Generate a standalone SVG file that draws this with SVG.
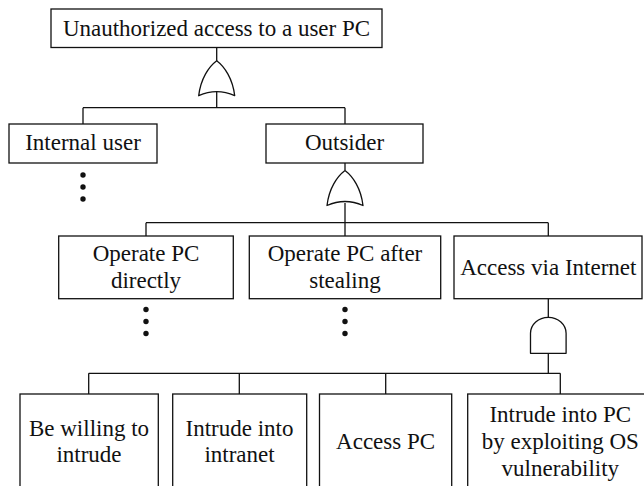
<svg xmlns="http://www.w3.org/2000/svg" width="644" height="486" viewBox="0 0 644 486">
<style>
.box{fill:#fff;stroke:#111;stroke-width:1.3}
.t{font-family:"Liberation Serif","Times New Roman",serif;font-size:23px;fill:#111;text-anchor:middle}
.ln{fill:none;stroke:#111;stroke-width:1.3}
.gate{fill:#fff;stroke:#111;stroke-width:1.3;stroke-linejoin:round}
.dot{fill:#111}
</style>
<defs>
<path id="orgate" d="M-18,35 C-16,18 -8,6 0,0 C8,6 16,18 18,35 Q0,27 -18,35 Z"/>
<path id="andgate" d="M-17.8,36 L-17.8,16 A17.8,16 0 0 1 17.8,16 L17.8,36 Z"/>
<g id="dots"><circle cx="0" cy="0" r="2.7"/><circle cx="0" cy="12" r="2.7"/><circle cx="0" cy="24" r="2.7"/></g>
</defs>

<g id="connectors">
  <path class="ln" d="M216.7,48 V61 M216.7,92 V107.7 M83,107.7 H345 M83,107.7 V124 M345,107.7 V124"/>
  <path class="ln" d="M345,163 V170 M345,203 V222.7 M146,222.7 H548.3 M146,222.7 V236 M345,222.7 V236 M548.3,222.7 V236"/>
  <path class="ln" d="M548.3,298.7 V317.3 M548.3,353.3 V373.3 M88.7,373.3 H560.3 M88.7,373.3 V394 M239.3,373.3 V394 M385.7,373.3 V394 M560.3,373.3 V394"/>
  <use href="#orgate" class="gate" x="216.7" y="60.7"/>
  <use href="#orgate" class="gate" x="345" y="170.5"/>
  <use href="#andgate" class="gate" x="548.3" y="317.3"/>
  <use href="#dots" class="dot" x="83" y="175"/>
  <use href="#dots" class="dot" x="146" y="309.5"/>
  <use href="#dots" class="dot" x="345" y="309.5"/>
</g>

<g id="top">
  <rect class="box" x="51" y="9" width="331" height="38.5"/>
  <text class="t" x="216.5" y="35.5">Unauthorized access to a user PC</text>
</g>
<g id="internal">
  <rect class="box" x="9" y="124" width="148" height="39"/>
  <text class="t" x="83" y="150">Internal user</text>
</g>
<g id="outsider">
  <rect class="box" x="266" y="124" width="157" height="39"/>
  <text class="t" x="344.5" y="150">Outsider</text>
</g>
<g id="operate_directly">
  <rect class="box" x="58.7" y="236" width="174.6" height="62.7"/>
  <text class="t" x="146" y="260.5">Operate PC</text>
  <text class="t" x="146" y="287.5">directly</text>
</g>
<g id="operate_stealing">
  <rect class="box" x="249.3" y="236" width="191.4" height="62.7"/>
  <text class="t" x="345" y="260.5">Operate PC after</text>
  <text class="t" x="345" y="287.5">stealing</text>
</g>
<g id="access_internet">
  <rect class="box" x="454" y="236" width="188" height="62.7"/>
  <text class="t" x="548.3" y="274.5">Access via Internet</text>
</g>
<g id="willing">
  <rect class="box" x="20" y="394" width="138.3" height="110"/>
  <text class="t" x="89" y="435.5">Be willing to</text>
  <text class="t" x="89" y="462">intrude</text>
</g>
<g id="intranet">
  <rect class="box" x="172.7" y="394" width="134" height="110"/>
  <text class="t" x="239.5" y="435.5">Intrude into</text>
  <text class="t" x="239.5" y="462">intranet</text>
</g>
<g id="access_pc">
  <rect class="box" x="319.5" y="394" width="132.2" height="110"/>
  <text class="t" x="385.6" y="449">Access PC</text>
</g>
<g id="intrude_pc">
  <rect class="box" x="467.7" y="394" width="200" height="110"/>
  <text class="t" x="560.3" y="421.5">Intrude into PC</text>
  <text class="t" x="560.3" y="449">by exploiting OS</text>
  <text class="t" x="560.3" y="476">vulnerability</text>
</g>
</svg>
